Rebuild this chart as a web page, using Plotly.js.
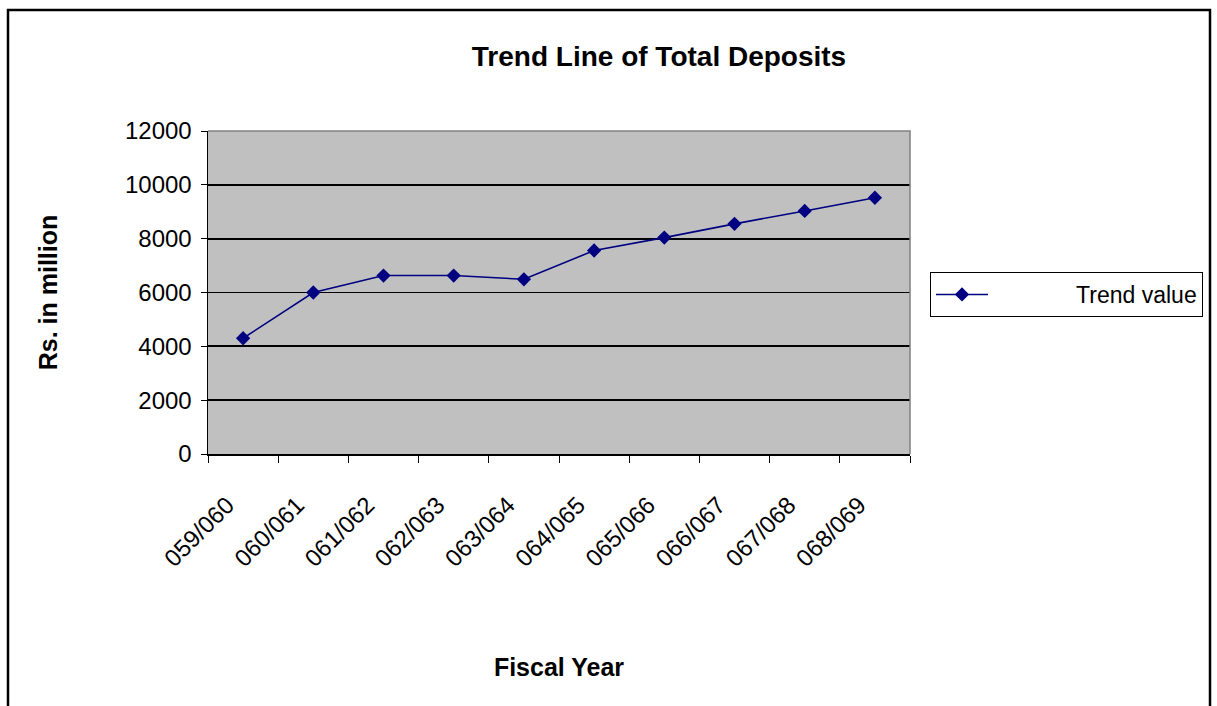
<!DOCTYPE html>
<html>
<head>
<meta charset="utf-8">
<script src="https://cdn.plot.ly/plotly-3.0.1.min.js"></script>
<style>
  html, body { margin: 0; padding: 0; background: #ffffff; }
  #chart { width: 1217px; height: 706px; }
</style>
</head>
<body>
<div id="chart"></div>
<script>
// Fiscal years (Nepali calendar) on the category axis
const fiscalYears = ['059/060', '060/061', '061/062', '062/063', '063/064',
                     '064/065', '065/066', '066/067', '067/068', '068/069'];
// Trend value of total deposits, Rs. in million
const trendValues = [4300, 6000, 6630, 6630, 6490, 7560, 8040, 8550, 9030, 9520];
// Value axis ticks
const yTicks = [0, 2000, 4000, 6000, 8000, 10000, 12000];
const seriesName = 'Trend value';

const W = 1217, H = 706;
const M = { l: 208, r: 307, t: 131, b: 252 };
const plotW = W - M.l - M.r, plotH = H - M.t - M.b;
// pixel -> paper helpers for the frame decorations
const px = x => (x - M.l) / plotW;
const py = y => (H - M.b - y) / plotH;

const FONT = 'Liberation Sans, Arial, sans-serif';

const trace = {
  type: 'scatter',
  mode: 'lines+markers',
  // non-breaking spaces keep the legend label right-aligned in its box
  name: '&nbsp;'.repeat(13) + seriesName,
  x: fiscalYears,
  y: trendValues,
  line: { color: '#000080', width: 1.6 },
  marker: { symbol: 'diamond', size: 11, color: '#000080' }
};

const layout = {
  width: W, height: H,
  margin: M,
  paper_bgcolor: '#ffffff',
  plot_bgcolor: '#c0c0c0',
  font: { family: FONT, size: 23, color: '#000000' },
  title: {
    text: '<b>Trend Line of Total Deposits</b>',
    font: { family: FONT, size: 28, color: '#000000' },
    xref: 'container', x: 659 / W, xanchor: 'center',
    yref: 'container', y: 1 - 56 / H, yanchor: 'middle'
  },
  xaxis: {
    type: 'category',
    range: [-0.5, fiscalYears.length - 0.5],
    tickson: 'boundaries',
    ticks: 'outside', ticklen: 7, tickwidth: 1, tickcolor: '#000000',
    tickangle: -45,
    ticklabelstandoff: 26,
    ticklabelshift: -16,
    tickfont: { family: FONT, size: 24, color: '#000000' },
    showline: true, linecolor: '#000000', linewidth: 1.5,
    showgrid: false, zeroline: false,
    fixedrange: true,
    title: {
      text: '<b>Fiscal Year</b>',
      font: { family: FONT, size: 25, color: '#000000' },
      standoff: 88
    }
  },
  yaxis: {
    range: [0, 12000],
    tickvals: yTicks,
    ticktext: yTicks.map(String),
    ticks: 'outside', ticklen: 6, tickwidth: 1, tickcolor: '#000000',
    ticklabelstandoff: 4,
    tickfont: { family: FONT, size: 24, color: '#000000' },
    showline: true, linecolor: '#000000', linewidth: 1.5,
    showgrid: true, gridcolor: '#000000', gridwidth: 1.8,
    zeroline: false,
    fixedrange: true,
    title: {
      text: '<b>Rs. in million</b>',
      font: { family: FONT, size: 25, color: '#000000' },
      standoff: 60
    }
  },
  showlegend: true,
  legend: {
    x: px(930), xanchor: 'left',
    y: py(272), yanchor: 'top',
    bgcolor: '#ffffff',
    bordercolor: '#000000', borderwidth: 1,
    font: { family: FONT, size: 23, color: '#000000' },
    itemwidth: 52,
    itemclick: false, itemdoubleclick: false
  },
  shapes: [
    // grey plot-area frame on the top and right edges
    {
      type: 'path', xref: 'paper', yref: 'paper', layer: 'above',
      path: 'M 0 1 L 1 1 L 1 0',
      line: { color: '#808080', width: 1.5 }
    },
    // outer chart frame
    {
      type: 'path', xref: 'paper', yref: 'paper', layer: 'above',
      path: `M ${px(8)} ${py(730)} L ${px(8)} ${py(10)} L ${px(1210)} ${py(10)} L ${px(1210)} ${py(730)}`,
      line: { color: '#000000', width: 2.5 }
    }
  ]
};

Plotly.newPlot('chart', [trace], layout, { staticPlot: true, displayModeBar: false });
</script>
</body>
</html>
